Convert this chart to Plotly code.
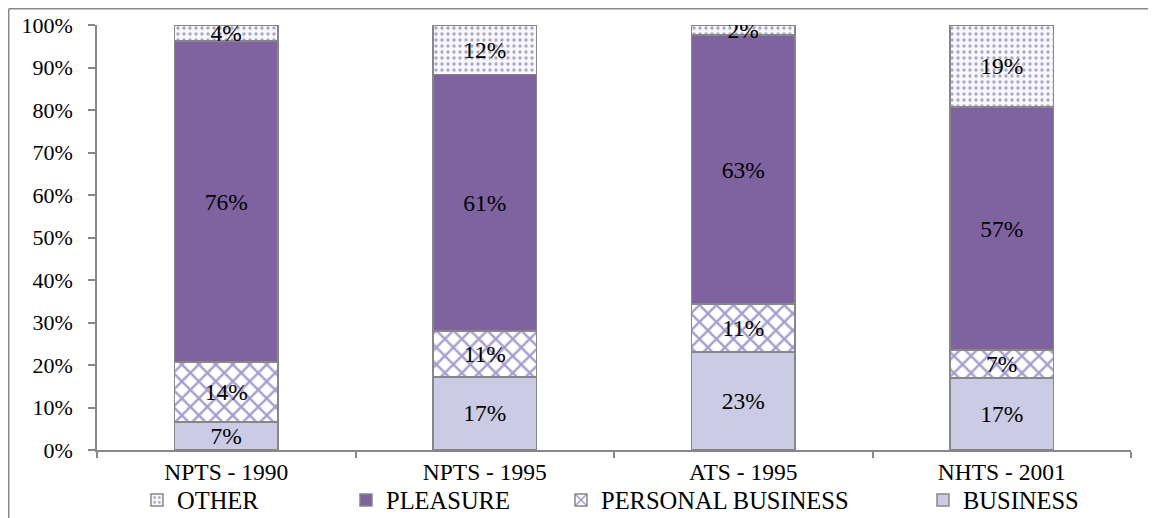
import plotly.graph_objects as go

categories = ["NPTS - 1990", "NPTS - 1995", "ATS - 1995", "NHTS - 2001"]
business = [6.6, 17.2, 23.1, 16.9]
personal_business = [14.1, 10.8, 11.3, 6.6]
pleasure = [75.5, 60.4, 63.2, 57.2]
other = [3.8, 11.6, 2.4, 19.3]
business_labels = ["7%", "17%", "23%", "17%"]
personal_labels = ["14%", "11%", "11%", "7%"]
pleasure_labels = ["76%", "61%", "63%", "57%"]
other_labels = ["4%", "12%", "2%", "19%"]
y_ticks = [0, 10, 20, 30, 40, 50, 60, 70, 80, 90, 100]
y_tick_labels = ["0%", "10%", "20%", "30%", "40%", "50%", "60%", "70%", "80%", "90%", "100%"]

FONT = "Liberation Serif"
EDGE = dict(color="#878787", width=1.5)
OFF = 8  # page body margin offset
W, H = 1156 - OFF, 518 - OFF
L, R, T, B = 97 - OFF, 25, 25 - OFF, 68

fig = go.Figure()
common = dict(textposition="inside", insidetextanchor="middle", textangle=0,
              insidetextfont=dict(family=FONT, size=23.5, color="black"),
              hoverinfo="skip")

fig.add_trace(go.Bar(name="BUSINESS", x=categories, y=business, text=business_labels,
                     marker=dict(color="#CBCBE5", line=EDGE), legend="legend4", **common))
fig.add_trace(go.Bar(name="PERSONAL BUSINESS", x=categories, y=personal_business, text=personal_labels,
                     marker=dict(color="white", line=EDGE,
                                 pattern=dict(shape="x", fgcolor="#4A3A9C", bgcolor="white",
                                              size=12, solidity=0.35)),
                     legend="legend3", **common))
fig.add_trace(go.Bar(name="PLEASURE", x=categories, y=pleasure, text=pleasure_labels,
                     marker=dict(color="#7F63A1", line=EDGE), legend="legend2", **common))
fig.add_trace(go.Bar(name="OTHER", x=categories, y=other, text=other_labels,
                     marker=dict(color="#F6F6FB", line=EDGE,
                                 pattern=dict(shape=".", fgcolor="#55558E", bgcolor="#F8F8FC",
                                              size=6, solidity=0.25)),
                     legend="legend", **common))

pw = W - L - R
ph = H - T - B

def px_to_paper_x(px):
    return (px - OFF - L) / pw

def px_to_paper_y(py):
    return (H - B - (py - OFF)) / ph

legend_common = dict(orientation="h", font=dict(family=FONT, size=24.5, color="black"),
                     bgcolor="rgba(0,0,0,0)", xanchor="left", yanchor="middle",
                     y=px_to_paper_y(500), itemwidth=30)

layout_legends = {}
starts = {"legend": 137, "legend2": 346, "legend3": 561, "legend4": 923}
for k, px in starts.items():
    layout_legends[k] = dict(legend_common, x=px_to_paper_x(px))

fig.update_layout(
    width=W, height=H,
    barmode="stack", bargap=0.6,
    margin=dict(l=L, r=R, t=T, b=B, autoexpand=False),
    paper_bgcolor="white", plot_bgcolor="white",
    font=dict(family=FONT, size=22, color="black"),
    uniformtext=dict(minsize=23.5, mode="show"),
    showlegend=True,
    **layout_legends,
    xaxis=dict(showline=True, linecolor="#878787", linewidth=1.5,
               ticks="outside", ticklen=6, tickcolor="#878787", tickwidth=1.5,
               tickson="boundaries", showgrid=False,
               tickfont=dict(family=FONT, size=23.5, color="black")),
    yaxis=dict(range=[0, 100], tickmode="array", tickvals=y_ticks, ticktext=y_tick_labels,
               showline=True, linecolor="#878787", linewidth=1.5,
               ticks="outside", ticklen=7, tickcolor="#878787", tickwidth=1.5,
               showgrid=False, zeroline=False, ticklabelstandoff=11,
               tickfont=dict(family=FONT, size=22, color="black")),
)

# outer chart frame (only top and left edges visible in the reference)
fig.add_shape(type="line", xref="paper", yref="paper",
              x0=px_to_paper_x(8.75), x1=px_to_paper_x(1160),
              y0=px_to_paper_y(8.75), y1=px_to_paper_y(8.75),
              line=dict(color="#8A8A8A", width=1.5))
fig.add_shape(type="line", xref="paper", yref="paper",
              x0=px_to_paper_x(8.75), x1=px_to_paper_x(8.75),
              y0=px_to_paper_y(8.75), y1=px_to_paper_y(525),
              line=dict(color="#8A8A8A", width=1.5))

fig.write_html("out.html")
